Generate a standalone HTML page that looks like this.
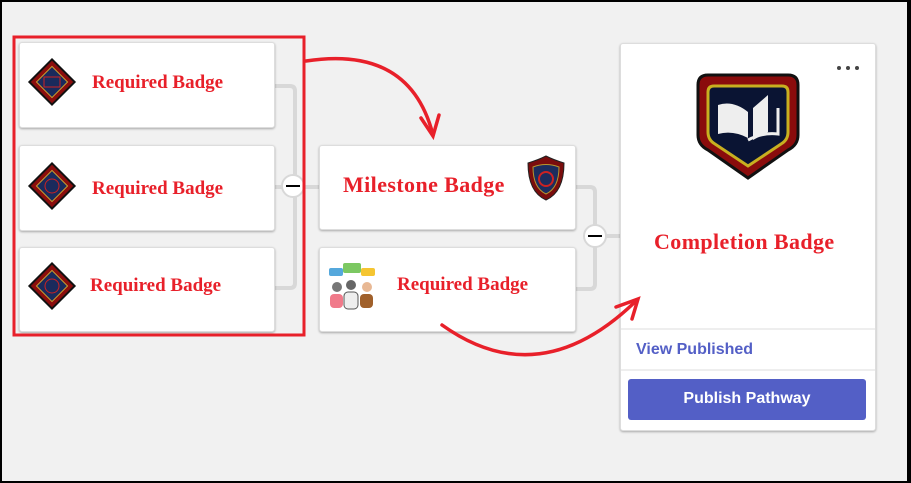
<!DOCTYPE html>
<html><head><style>
body{margin:0;width:911px;height:483px;overflow:hidden;background:#000;}
.wrap{position:absolute;left:2px;top:2px;width:905px;height:479px;background:#f1f1f1;}
.card{position:absolute;background:#fff;border-radius:3px;box-shadow:0 1px 2px rgba(0,0,0,.3);border:1px solid #ddd;box-sizing:border-box;}
.t{position:absolute;font-family:"Liberation Serif",serif;font-weight:bold;color:#e8202a;font-size:19px;}
.sans{font-family:"Liberation Sans",sans-serif;font-weight:bold;}
</style></head><body>
<div class="wrap"></div>
<svg width="911" height="483" style="position:absolute;left:0;top:0">
<g fill="none" stroke="#d8d8d8" stroke-width="4">
<path d="M274 86 H290 Q295 86 295 91 V283 Q295 288 290 288 H274"/>
<path d="M274 187 H320"/>
<path d="M575 187 H590 Q595 187 595 192 V284 Q595 289 590 289 H575"/>
<path d="M595 236 H620"/>
</g>
</svg>
<div class="card" style="left:19px;top:42px;width:256px;height:86px"></div>
<div class="card" style="left:19px;top:145px;width:256px;height:86px"></div>
<div class="card" style="left:19px;top:247px;width:256px;height:85px"></div>
<div class="card" style="left:319px;top:145px;width:257px;height:85px"></div>
<div class="card" style="left:319px;top:247px;width:257px;height:85px"></div>
<div class="card" style="left:620px;top:43px;width:256px;height:388px"></div>
<svg width="911" height="483" style="position:absolute;left:0;top:0">
<g>
<g transform="translate(52,82)"><rect x="-16" y="-16" width="32" height="32" transform="rotate(45)" fill="#8b0d0d" stroke="#111" stroke-width="2"/><rect x="-11" y="-11" width="22" height="22" transform="rotate(45)" fill="#1a2a5c" stroke="#c9a030"/><rect x="-8" y="-5" width="16" height="10" fill="none" stroke="#c22"/></g>
<g transform="translate(52,186)"><rect x="-16" y="-16" width="32" height="32" transform="rotate(45)" fill="#8b0d0d" stroke="#111" stroke-width="2"/><rect x="-11" y="-11" width="22" height="22" transform="rotate(45)" fill="#1a2a5c" stroke="#c9a030"/><circle r="7" fill="none" stroke="#c22"/></g>
<g transform="translate(52,286)"><rect x="-16" y="-16" width="32" height="32" transform="rotate(45)" fill="#8b0d0d" stroke="#111" stroke-width="2"/><rect x="-11" y="-11" width="22" height="22" transform="rotate(45)" fill="#1a2a5c" stroke="#c9a030"/><circle r="7" fill="none" stroke="#c22"/></g>
<path d="M528 163 Q538 160 546 156 Q554 160 564 163 Q564 192 546 200 Q528 192 528 163Z" fill="#7a0d0d" stroke="#222"/>
<path d="M533 167 Q546 162 559 167 Q559 188 546 194 Q533 188 533 167Z" fill="#1c2d5e" stroke="#b8962e"/>
<circle cx="546" cy="179" r="7" fill="none" stroke="#c22" stroke-width="2"/>
<rect x="329" y="268" width="14" height="8" rx="2" fill="#55a8dc"/><rect x="343" y="263" width="18" height="10" rx="2" fill="#7cc862"/><rect x="361" y="268" width="14" height="8" rx="2" fill="#f5c531"/>
<circle cx="337" cy="287" r="5" fill="#777"/><rect x="330" y="294" width="13" height="14" rx="4" fill="#f07a8a"/>
<circle cx="351" cy="285" r="5" fill="#666"/><rect x="344" y="292" width="14" height="17" rx="4" fill="#eee" stroke="#555"/>
<circle cx="367" cy="287" r="5" fill="#e8b894"/><rect x="360" y="294" width="13" height="14" rx="4" fill="#a0602a"/>
<g transform="translate(748,120)">
<path d="M-50 -35 Q-50 -45 -40 -45 H40 Q50 -45 50 -35 V15 Q50 25 40 30 L0 58 L-40 30 Q-50 25 -50 15Z" fill="#8a0c0c" stroke="#111" stroke-width="3"/>
<path d="M-40 -28 Q-40 -34 -34 -34 H34 Q40 -34 40 -28 V12 Q40 20 33 24 L0 46 L-33 24 Q-40 20 -40 12Z" fill="#0a1433" stroke="#c8b020" stroke-width="3"/>
<path d="M-30 -15 Q-15 -20 0 -8 V18 Q-15 10 -30 14Z" fill="#eee"/><path d="M5 -12 L20 -25 V12 L5 20Z" fill="#eee"/><path d="M0 20 Q15 12 30 14 V-12" fill="none" stroke="#eee" stroke-width="3"/>
</g>
<circle cx="839" cy="68" r="2" fill="#444"/><circle cx="848" cy="68" r="2" fill="#444"/><circle cx="857" cy="68" r="2" fill="#444"/>
<line x1="621" y1="329" x2="875" y2="329" stroke="#ddd"/><line x1="621" y1="370" x2="875" y2="370" stroke="#ddd"/>
<rect x="628" y="379" width="238" height="41" rx="3" fill="#535fc6"/>
<circle cx="293" cy="186" r="11" fill="#fff" stroke="#d8d8d8" stroke-width="2"/><line x1="286" y1="186" x2="300" y2="186" stroke="#000" stroke-width="2"/>
<circle cx="595" cy="236" r="11" fill="#fff" stroke="#d8d8d8" stroke-width="2"/><line x1="588" y1="236" x2="602" y2="236" stroke="#000" stroke-width="2"/>
<rect x="14" y="37" width="290" height="298" fill="none" stroke="#e8202a" stroke-width="3"/>
<g fill="none" stroke="#e8202a" stroke-width="3.5" stroke-linecap="round">
<path d="M306 61 Q410 45 433 135"/><path d="M421 118 L433 136 L439 115"/>
<path d="M442 325 Q540 395 637 300"/><path d="M616 307 L638 299 L632 319"/>
</g>
</g>
</svg>
<div class="t" style="left:92px;top:72px;letter-spacing:0px">Required Badge</div>
<div class="t" style="left:92px;top:178px;letter-spacing:0px">Required Badge</div>
<div class="t" style="left:90px;top:275px;letter-spacing:0px">Required Badge</div>
<div class="t" style="left:343px;top:172px;font-size:22px;letter-spacing:0.4px">Milestone Badge</div>
<div class="t" style="left:397px;top:274px;letter-spacing:0px">Required Badge</div>
<div class="t" style="left:654px;top:229px;font-size:22px;letter-spacing:0.4px">Completion Badge</div>
<div class="sans" style="position:absolute;left:636px;top:341px;font-size:16px;color:#535fc6">View Published</div>
<div class="sans" style="position:absolute;left:628px;top:390px;width:238px;text-align:center;font-size:16px;color:#fff">Publish Pathway</div>
</body></html>
